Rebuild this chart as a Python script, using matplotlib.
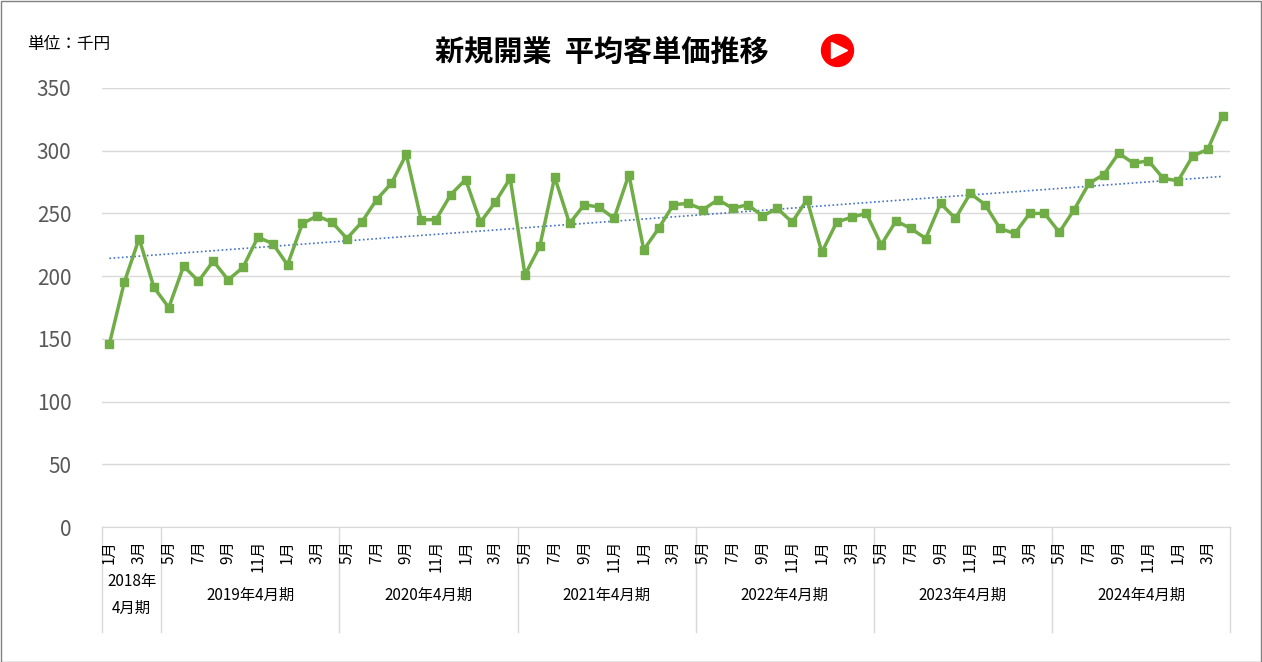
import numpy as np
import matplotlib.pyplot as plt
from matplotlib.lines import Line2D

plt.rcParams["font.family"] = ["Noto Sans CJK JP", "DejaVu Sans"]

# =====================================================
# DATA
# =====================================================

months = [1, 2, 3, 4] + [5, 6, 7, 8, 9, 10, 11, 12, 1, 2, 3, 4] * 6

values = [
    146, 195, 230, 191,
    175, 208, 196, 212, 197, 207, 231, 226, 209, 242, 248, 243,
    230, 243, 261, 274, 297, 245, 245, 265, 277, 243, 259, 278,
    201, 224, 279, 242, 257, 255, 246, 281, 221, 238, 257, 258,
    253, 261, 254, 257, 248, 254, 243, 261, 219, 243, 247, 250,
    225, 244, 238, 230, 258, 246, 266, 257, 238, 234, 250, 250,
    235, 253, 274, 281, 298, 290, 292, 278, 276, 296, 301, 328,
]

groups = ["2018年\n4月期", "2019年4月期", "2020年4月期", "2021年4月期",
          "2022年4月期", "2023年4月期", "2024年4月期"]
group_sizes = [4, 12, 12, 12, 12, 12, 12]

# =====================================================
# FIGURE
# =====================================================

W, H = 1262, 662
fig = plt.figure(figsize=(W / 100, H / 100), dpi=100)
ax = fig.add_axes([102 / W, 1 - 527 / H, (1230 - 102) / W, (527 - 88) / H])

x = np.arange(len(values))
ax.plot(x, values, color="#70AD47", lw=2.5, marker="s", ms=6, zorder=3)

# trend line
k, b = np.polyfit(x, values, 1)
ax.plot(x, k * x + b, color="#4472C4", lw=1.2, ls=(0, (1, 1.5)), zorder=2)

ax.set_xlim(-0.5, len(values) - 0.5)
ax.set_ylim(0, 350)
ax.set_yticks(range(0, 351, 50))
ax.tick_params(axis="y", length=0, labelsize=15, labelcolor="#595959", pad=22)
ax.grid(axis="y", color="#D9D9D9", lw=1)
ax.set_xticks([])
for s in ["top", "right", "left"]:
    ax.spines[s].set_visible(False)
ax.spines["bottom"].set_color("#D9D9D9")

# category labels
tr = ax.get_xaxis_transform()
for i, m in enumerate(months):
    if m % 2 == 1:
        ax.text(i, -0.03, f"{m}月", rotation=90, ha="center", va="top",
                fontsize=11, transform=tr)

# group labels and separators
bottom = -(632 - 527) / (527 - 88)
start = 0
ax.plot([-0.5, -0.5], [0, bottom], color="#D9D9D9", lw=1,
        transform=tr, clip_on=False)
for g, n in zip(groups, group_sizes):
    end = start + n
    ax.plot([end - 0.5, end - 0.5], [0, bottom], color="#D9D9D9", lw=1,
            transform=tr, clip_on=False)
    ax.text((start + end - 1) / 2, -(595 - 527) / (527 - 88), g,
            ha="center", va="center", fontsize=11, linespacing=1.8,
            transform=tr)
    start = end

# titles
fig.text(435 / W, 1 - 52 / H, "新規開業  平均客単価推移", fontsize=21,
         fontweight="bold", va="center", ha="left")
fig.text(27 / W, 1 - 44 / H, "単位：千円", fontsize=12, va="center")

# play icon
cx, cy = 837 / W, 1 - 50 / H
fig.add_artist(Line2D([cx], [cy], marker="o", ms=23, color="#FF0000",
                      transform=fig.transFigure))
fig.add_artist(Line2D([cx + 1.5 / W], [cy], marker=">", ms=11, color="white",
                      transform=fig.transFigure))

# border
fig.patches.append(plt.Rectangle((0.5 / W, 0.5 / H), 1 - 1.5 / W, 1 - 1.5 / H,
                                 fill=False, ec="#808080", lw=1,
                                 transform=fig.transFigure))

fig.savefig("out.png", dpi=100)
